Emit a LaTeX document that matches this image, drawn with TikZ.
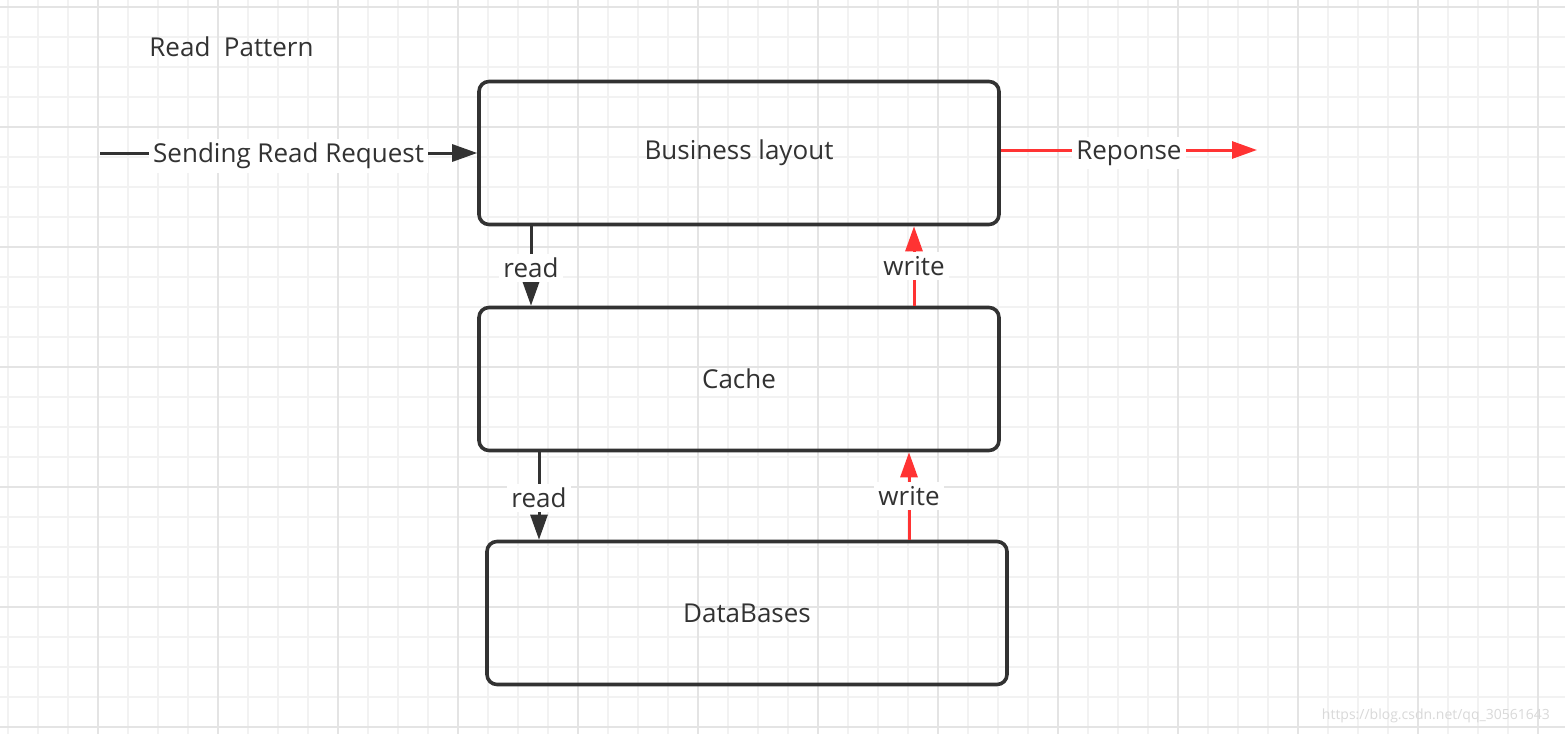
\documentclass[tikz,border=0pt]{standalone}
\usepackage{fontspec}
\setmainfont{Open Sans}
\usetikzlibrary{arrows.meta,positioning}

\definecolor{ink}{HTML}{323232}
\definecolor{hot}{HTML}{FF3333}
\definecolor{gridminor}{HTML}{F2F2F2}
\definecolor{gridmajor}{HTML}{E4E4E4}

\tikzset{
  block/.style={draw=ink, line width=1.8pt, rounded corners=5pt,
    minimum width=260pt, minimum height=71.5pt, text=ink,
    font=\fontsize{13}{15}\selectfont},
  flow/.style={draw=ink, line width=1.5pt,
    -{Triangle[length=12.5pt,width=8.5pt]}},
  back/.style={flow, draw=hot, fill=hot},
  tag/.style={fill=white, text=ink, inner sep=2pt,
    font=\fontsize{13}{15}\selectfont},
  minorline/.style={draw=gridminor, line width=1pt},
  majorline/.style={draw=gridmajor, line width=1.3pt}
}

\begin{document}
\begin{tikzpicture}[x=0.5pt,y=-0.5pt]
% page and grid
\useasboundingbox (0,0) rectangle (1565,734);
\fill[white] (0,0) rectangle (1565,734);
\foreach \gx in {8,38,...,1558} \draw[minorline] (\gx,0) -- (\gx,734);
\foreach \gy in {7,37,...,727} \draw[minorline] (0,\gy) -- (1565,\gy);
\foreach \gx in {98,218,...,1538} \draw[majorline] (\gx,0) -- (\gx,734);
\foreach \gy in {7,127,...,727} \draw[majorline] (0,\gy) -- (1565,\gy);

\node[tag, fill=none, anchor=west] (title) at (145,47) {Read\ \ Pattern};

\node[block] (biz) at (739,153) {Business layout};
\node[block] (cache) at (739,379) {Cache};
\node[block] (db) at (747,613) {DataBases};

\coordinate (reqStart) at (100,153);
\coordinate (respEnd) at (1257,150);
\coordinate (readA) at (531,0);
\coordinate (writeA) at (914,0);
\coordinate (readB) at (539,0);
\coordinate (writeB) at (909,0);

\draw[flow] (reqStart) -- (biz.west) node[tag,midway,yshift=-1.5pt] {Sending Read Request};
\draw[back] (biz.east |- respEnd) -- (respEnd) node[tag,midway,yshift=-1.5pt] {Reponse};
\draw[flow] (biz.south -| readA) -- (cache.north -| readA) node[tag,pos=0.52] {read};
\draw[back] (cache.north -| writeA) -- (biz.south -| writeA) node[tag,pos=0.5] {write};
\draw[flow] (cache.south -| readB) -- (db.north -| readB) node[tag,pos=0.52] {read};
\draw[back] (db.north -| writeB) -- (cache.south -| writeB) node[tag,pos=0.5] {write};

\node[text=gray!30, font=\fontsize{7}{8}\selectfont, anchor=east] (mark) at (1557,716) {https://blog.csdn.net/qq\_30561643};
\end{tikzpicture}
\end{document}
